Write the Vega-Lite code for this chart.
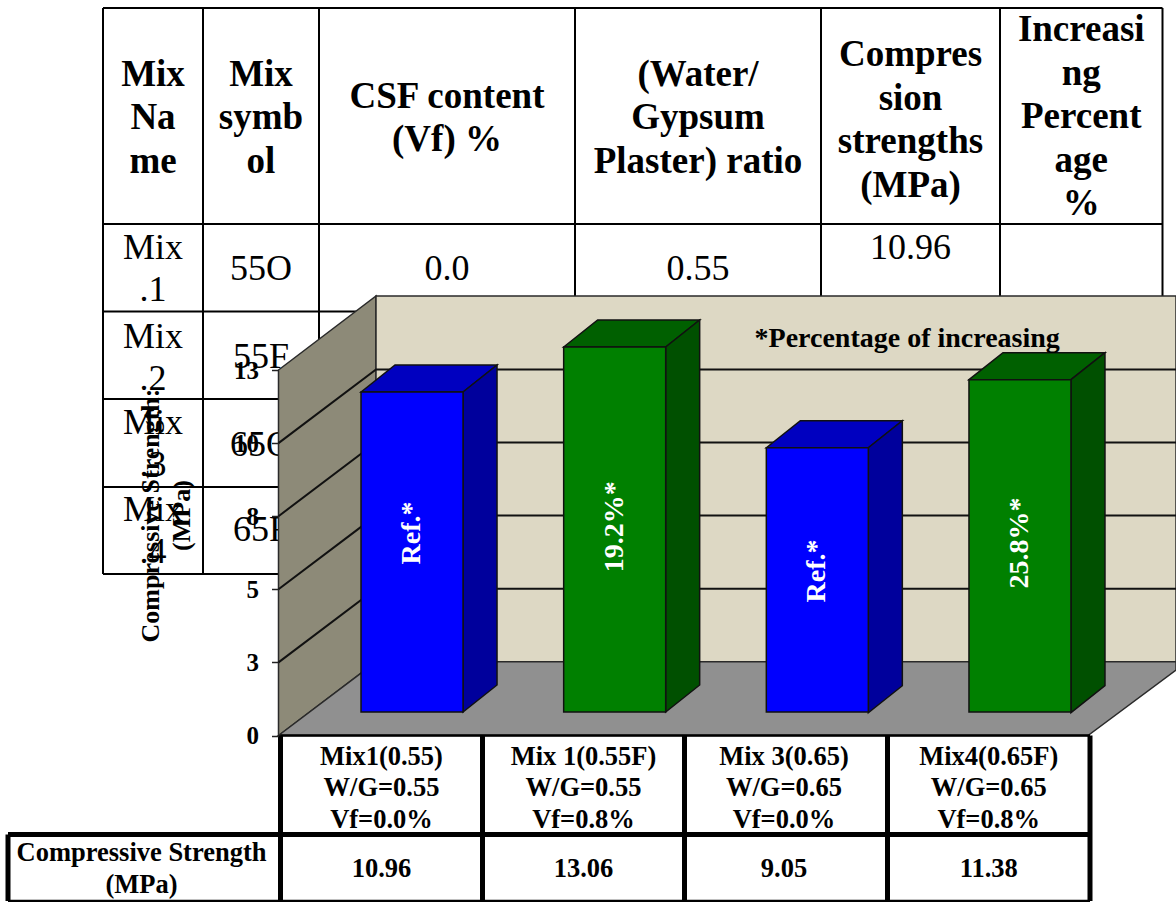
{"$schema":"https://vega.github.io/schema/vega-lite/v6.json","width":1176,"height":902,"padding":0,"autosize":{"type":"none"},"background":"white","config":{"view":{"stroke":null},"text":{"font":"Liberation Serif"}},
"datasets":{
"topGrid":[{"c0":0,"c1":6,"r0":0,"r1":0},{"c0":0,"c1":6,"r0":1,"r1":1},{"c0":0,"c1":6,"r0":2,"r1":2},{"c0":0,"c1":6,"r0":3,"r1":3},{"c0":0,"c1":6,"r0":4,"r1":4},{"c0":0,"c1":6,"r0":5,"r1":5},{"c0":0,"c1":0,"r0":0,"r1":5},{"c0":1,"c1":1,"r0":0,"r1":5},{"c0":2,"c1":2,"r0":0,"r1":5},{"c0":3,"c1":3,"r0":0,"r1":5},{"c0":4,"c1":4,"r0":0,"r1":5},{"c0":5,"c1":5,"r0":0,"r1":5},{"c0":6,"c1":6,"r0":0,"r1":5}],
"topHead":[{"c":0.5,"r":0.31,"t":"Mix\nNa\nme"},{"c":1.5,"r":0.31,"t":"Mix\nsymb\nol"},{"c":2.5,"r":0.412,"t":"CSF content\n(Vf) %"},{"c":3.5,"r":0.31,"t":"(Water/\nGypsum\nPlaster) ratio"},{"c":4.5,"r":0.218,"t":"Compres\nsion\nstrengths\n(MPa)"},{"c":5.5,"r":0.102,"t":"Increasi\nng\nPercent\nage\n%"}],
"topBody":[{"c":0.5,"r":1.274,"t":"Mix\n.1"},{"c":1.5,"r":1.51,"t":"55O"},{"c":2.5,"r":1.51,"t":"0.0"},{"c":3.5,"r":1.51,"t":"0.55"},{"c":4.5,"r":1.275,"t":"10.96"},{"c":0.5,"r":2.29,"t":"Mix\n.2"},{"c":1.5,"r":2.52,"t":"55F"},{"c":0.5,"r":3.27,"t":"Mix\n.3"},{"c":1.5,"r":3.52,"t":"65O"},{"c":0.5,"r":4.264,"t":"Mix\n.4"},{"c":1.5,"r":4.49,"t":"65F"}],
"surfaces":[{"s":"left wall","p":0,"lo":0,"hi":12.5},{"s":"left wall","p":1,"lo":2.52,"hi":15.03},{"s":"back wall","p":1,"lo":2.52,"hi":15.03},{"s":"back wall","p":2,"lo":2.52,"hi":15.03},{"s":"floor","p":0,"lo":0,"hi":0},{"s":"floor","p":1,"lo":0,"hi":2.52},{"s":"floor","p":1.89,"lo":0,"hi":2.52},{"s":"floor","p":2,"lo":2.24,"hi":2.52}],
"gridlines":[{"t":2.5,"p":0,"v":2.5},{"t":2.5,"p":1,"v":5.02},{"t":2.5,"p":2,"v":5.02},{"t":5,"p":0,"v":5},{"t":5,"p":1,"v":7.52},{"t":5,"p":2,"v":7.52},{"t":7.5,"p":0,"v":7.5},{"t":7.5,"p":1,"v":10.02},{"t":7.5,"p":2,"v":10.02},{"t":10,"p":0,"v":10},{"t":10,"p":1,"v":12.52},{"t":10,"p":2,"v":12.52}],
"bars":[{"mix":"Mix1(0.55)","kind":"ref","strength":10.96,"label":"Ref.*","at":6.13},{"mix":"Mix 1(0.55F)","kind":"fibre","strength":13.06,"label":"19.2%*","at":6.34},{"mix":"Mix 3(0.65)","kind":"ref","strength":9.05,"label":"Ref.*","at":4.83},{"mix":"Mix4(0.65F)","kind":"fibre","strength":11.38,"label":"25.8%*","at":5.79}],
"note":[{"p":1.664,"v":13.56,"t":"*Percentage of increasing"}],
"lowGrid":[{"c0":1,"c1":5,"r0":0,"r1":0,"w":"thin"},{"c0":0,"c1":5,"r0":1,"r1":1,"w":"thick"},{"c0":0,"c1":5,"r0":2,"r1":2,"w":"thin"},{"c0":0,"c1":0,"r0":1,"r1":2,"w":"thick"},{"c0":1,"c1":1,"r0":0,"r1":2,"w":"thick"},{"c0":2,"c1":2,"r0":0,"r1":2,"w":"thick"},{"c0":3,"c1":3,"r0":0,"r1":2,"w":"thick"},{"c0":4,"c1":4,"r0":0,"r1":2,"w":"thick"},{"c0":5,"c1":5,"r0":0,"r1":2,"w":"thick"}],
"lowText":[{"c":1.5,"r":0.217,"t":"Mix1(0.55)\nW/G=0.55\nVf=0.0%"},{"c":2.5,"r":0.217,"t":"Mix 1(0.55F)\nW/G=0.55\nVf=0.8%"},{"c":3.49,"r":0.217,"t":"Mix 3(0.65)\nW/G=0.65\nVf=0.0%"},{"c":4.5,"r":0.217,"t":"Mix4(0.65F)\nW/G=0.65\nVf=0.8%"},{"c":0.49,"r":1.28,"t":"Compressive Strength\n(MPa)"},{"c":1.5,"r":1.52,"t":"10.96"},{"c":2.5,"r":1.52,"t":"13.06"},{"c":3.49,"r":1.52,"t":"9.05"},{"c":4.5,"r":1.52,"t":"11.38"}]
},
"resolve":{"scale":{"x":"independent","y":"independent","color":"independent","fill":"independent","strokeWidth":"independent","shape":"independent"},"axis":{"y":"independent"}},
"layer":[
{"data":{"name":"topGrid"},"mark":{"type":"rule","color":"black","strokeWidth":2},"encoding":{"x":{"field":"c0","type":"quantitative","axis":null,"scale":{"domain":[0,1,2,3,4,5,6],"range":[103,203,319,575,821,1000,1162.5],"nice":false}},"x2":{"field":"c1"},"y":{"field":"r0","type":"quantitative","axis":null,"scale":{"domain":[0,1,2,3,4,5],"range":[8,224,311.5,399,487,574],"nice":false}},"y2":{"field":"r1"}}},
{"data":{"name":"topHead"},"mark":{"type":"text","font":"Liberation Serif","fontWeight":"bold","fontSize":37,"lineBreak":"\n","lineHeight":43.5,"align":"center","baseline":"middle","color":"black"},"encoding":{"x":{"field":"c","type":"quantitative","axis":null,"scale":{"domain":[0,1,2,3,4,5,6],"range":[103,203,319,575,821,1000,1162.5],"nice":false}},"y":{"field":"r","type":"quantitative","axis":null,"scale":{"domain":[0,1,2,3,4,5],"range":[8,224,311.5,399,487,574],"nice":false}},"text":{"field":"t"}}},
{"data":{"name":"topBody"},"mark":{"type":"text","font":"Liberation Serif","fontSize":36,"lineBreak":"\n","lineHeight":42,"align":"center","baseline":"middle","color":"black"},"encoding":{"x":{"field":"c","type":"quantitative","axis":null,"scale":{"domain":[0,1,2,3,4,5,6],"range":[103,203,319,575,821,1000,1162.5],"nice":false}},"y":{"field":"r","type":"quantitative","axis":null,"scale":{"domain":[0,1,2,3,4,5],"range":[8,224,311.5,399,487,574],"nice":false}},"text":{"field":"t"}}},
{"data":{"name":"surfaces"},"mark":{"type":"area","stroke":"#2a2a2a","strokeWidth":1.5,"opacity":1},"encoding":{"x":{"field":"p","type":"quantitative","axis":null,"scale":{"domain":[0,1,2],"range":[278.5,376,1176],"nice":false}},"y":{"field":"hi","type":"quantitative","axis":null,"stack":null,"scale":{"domain":[0,12.5],"range":[735.5,370],"nice":false}},"y2":{"field":"lo"},"color":{"field":"s","type":"nominal","legend":null,"scale":{"domain":["left wall","back wall","floor"],"range":["#8D8A78","#DDD8C4","#909090"]}}}},
{"data":{"name":"gridlines"},"mark":{"type":"line","color":"#111111","strokeWidth":2},"encoding":{"x":{"field":"p","type":"quantitative","axis":null,"scale":{"domain":[0,1,2],"range":[278.5,376,1176],"nice":false}},"y":{"field":"v","type":"quantitative","scale":{"domain":[0,12.5],"range":[735.5,370],"nice":false},"axis":{"orient":"left","offset":-278.5,"zindex":1,"values":[0,2.5,5,7.5,10,12.5],"format":".0f","domain":false,"grid":false,"ticks":true,"tickSize":7,"tickColor":"#222222","tickWidth":1.5,"labelFont":"Liberation Serif","labelFontWeight":"bold","labelFontSize":25,"labelColor":"black","labelPadding":13,"labelOverlap":false,"title":["Compressive Strength:","(MPa)"],"titleFont":"Liberation Serif","titleFontWeight":"bold","titleFontSize":26,"titleColor":"black","titleLineHeight":31,"titleAngle":-90,"titleAlign":"center","titleBaseline":"middle","titleX":-128,"titleY":515}},"detail":{"field":"t"},"order":{"field":"p"}}},
{"data":{"name":"bars"},"mark":{"type":"point","filled":true,"size":4,"opacity":1,"stroke":"#111111","strokeWidth":1.5},"encoding":{"x":{"field":"mix","type":"nominal","sort":null,"axis":null,"scale":{"range":[310.7,1121.3],"paddingInner":0,"paddingOuter":0}},"y":{"field":"strength","type":"quantitative","axis":null,"scale":{"domain":[0,12.5],"range":[712,347],"clamp":true,"nice":false}},"fill":{"field":"kind","type":"nominal","legend":null,"scale":{"domain":["ref","fibre"],"range":["#0000C0","#006000"]}},"shape":{"value":"M-51,0 L-17,-27 L85,-27 L51,0 Z"}}},
{"data":{"name":"bars"},"mark":{"type":"point","filled":true,"size":4,"opacity":1,"stroke":"#111111","strokeWidth":1.5},"encoding":{"x":{"field":"mix","type":"nominal","sort":null,"axis":null,"scale":{"range":[310.7,1121.3],"paddingInner":0,"paddingOuter":0}},"y":{"field":"strength","type":"quantitative","axis":null,"scale":{"domain":[0,12.5],"range":[712,347],"clamp":true,"nice":false}},"fill":{"field":"kind","type":"nominal","legend":null,"scale":{"domain":["ref","fibre"],"range":["#00009C","#005000"]}},"shape":{"field":"mix","type":"nominal","legend":null,"scale":{"domain":["Mix1(0.55)","Mix 1(0.55F)","Mix 3(0.65)","Mix4(0.65F)"],"range":["M51,0 L85,-27 L85,293 L51,320 Z","M51,0 L85,-27 L85,338 L51,365 Z","M51,0 L85,-27 L85,238 L51,265 Z","M51,0 L85,-27 L85,306 L51,333 Z"]}}}},
{"data":{"name":"bars"},"mark":{"type":"bar","size":102,"stroke":"#111111","strokeWidth":1.5,"opacity":1},"encoding":{"x":{"field":"mix","type":"nominal","sort":null,"axis":null,"scale":{"range":[310.7,1121.3],"paddingInner":0,"paddingOuter":0}},"y":{"field":"strength","type":"quantitative","axis":null,"scale":{"domain":[0,12.5],"range":[712,347],"clamp":true,"nice":false}},"color":{"field":"kind","type":"nominal","legend":null,"scale":{"domain":["ref","fibre"],"range":["#0000FF","#008000"]}}}},
{"data":{"name":"bars"},"mark":{"type":"text","font":"Liberation Serif","fontWeight":"bold","fontSize":28,"angle":270,"align":"center","baseline":"middle","color":"white"},"encoding":{"x":{"field":"mix","type":"nominal","sort":null,"axis":null,"scale":{"range":[310.7,1121.3],"paddingInner":0,"paddingOuter":0}},"y":{"field":"at","type":"quantitative","axis":null,"scale":{"domain":[0,12.5],"range":[712,347],"nice":false}},"text":{"field":"label"}}},
{"data":{"name":"note"},"mark":{"type":"text","font":"Liberation Serif","fontWeight":"bold","fontSize":28,"align":"center","baseline":"middle","color":"black"},"encoding":{"x":{"field":"p","type":"quantitative","axis":null,"scale":{"domain":[0,1,2],"range":[278.5,376,1176],"nice":false}},"y":{"field":"v","type":"quantitative","axis":null,"scale":{"domain":[0,12.5],"range":[735.5,370],"nice":false}},"text":{"field":"t"}}},
{"data":{"name":"lowGrid"},"mark":{"type":"rule","color":"black"},"encoding":{"x":{"field":"c0","type":"quantitative","axis":null,"scale":{"domain":[0,1,2,3,4,5],"range":[8,280.5,482.5,684.5,887.5,1090],"nice":false}},"x2":{"field":"c1"},"y":{"field":"r0","type":"quantitative","axis":null,"scale":{"domain":[0,1,2],"range":[735.5,834.5,901],"nice":false}},"y2":{"field":"r1"},"strokeWidth":{"field":"w","type":"nominal","legend":null,"scale":{"domain":["thin","thick"],"range":[2.5,5]}}}},
{"data":{"name":"lowText"},"mark":{"type":"text","font":"Liberation Serif","fontWeight":"bold","fontSize":26.5,"lineBreak":"\n","lineHeight":31.5,"align":"center","baseline":"middle","color":"black"},"encoding":{"x":{"field":"c","type":"quantitative","axis":null,"scale":{"domain":[0,1,2,3,4,5],"range":[8,280.5,482.5,684.5,887.5,1090],"nice":false}},"y":{"field":"r","type":"quantitative","axis":null,"scale":{"domain":[0,1,2],"range":[735.5,834.5,901],"nice":false}},"text":{"field":"t"}}}
]}
